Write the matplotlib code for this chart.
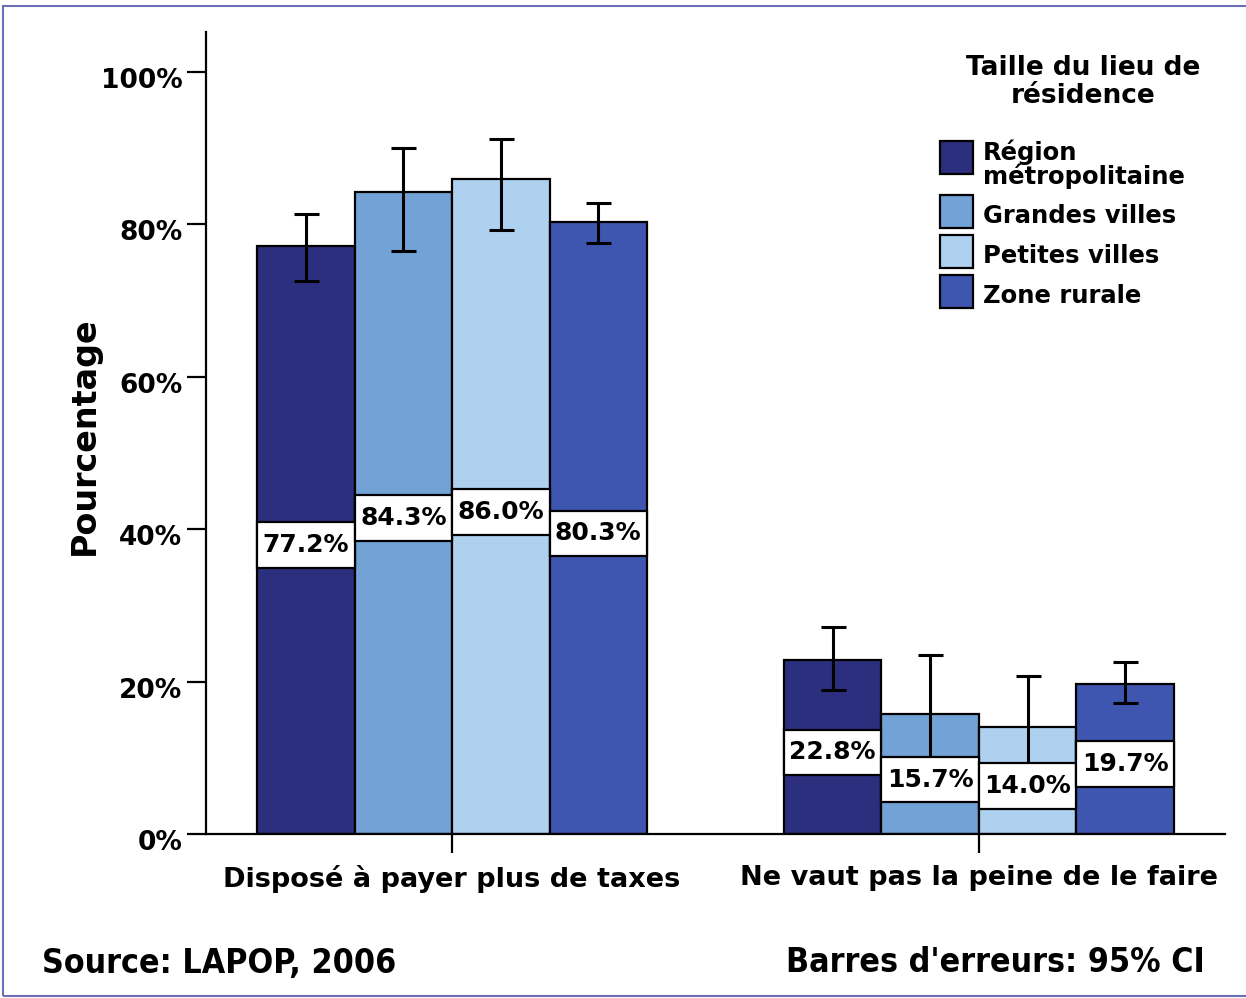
import numpy as np
import matplotlib
matplotlib.use("Agg")
import matplotlib.pyplot as plt
import matplotlib.transforms as mtransforms
from matplotlib.patches import Rectangle

plt.rcParams["font.family"] = "DejaVu Sans"
plt.rcParams["font.weight"] = "bold"

groupes = ["Disposé à payer plus de taxes", "Ne vaut pas la peine de le faire"]
categories = ["Région\nmétropolitaine", "Grandes villes", "Petites villes", "Zone rurale"]
couleurs = ["#2c2e7e", "#72a2d6", "#afd1f0", "#3e56b0"]

val_metro = [77.2, 22.8]
val_grandes = [84.3, 15.7]
val_petites = [86.0, 14.0]
val_rurale = [80.3, 19.7]

ic_bas_metro = [72.6, 18.9]
ic_bas_grandes = [76.5, 10.0]
ic_bas_petites = [79.3, 9.1]
ic_bas_rurale = [77.6, 17.2]

ic_haut_metro = [81.4, 27.2]
ic_haut_grandes = [90.0, 23.5]
ic_haut_petites = [91.2, 20.7]
ic_haut_rurale = [82.8, 22.6]

valeurs = [val_metro, val_grandes, val_petites, val_rurale]
ic_bas = [ic_bas_metro, ic_bas_grandes, ic_bas_petites, ic_bas_rurale]
ic_haut = [ic_haut_metro, ic_haut_grandes, ic_haut_petites, ic_haut_rurale]

W, H = 1246, 998
fig = plt.figure(figsize=(W / 100, H / 100), dpi=100)
ax = fig.add_axes([206 / W, 1 - 834 / H, (1225 - 206) / W, (834 - 32) / H])

x = np.arange(len(groupes))
largeur = 0.185

for i, (vals, bas, haut, cor) in enumerate(zip(valeurs, ic_bas, ic_haut, couleurs)):
    pos = x + (i - 1.5) * largeur
    vals = np.array(vals)
    ax.bar(pos, vals, width=largeur, color=cor, edgecolor="black", linewidth=1.6, zorder=2)
    err = [vals - np.array(bas), np.array(haut) - vals]
    ax.errorbar(pos, vals, yerr=err, fmt="none", ecolor="black", elinewidth=2.2,
                capsize=9, capthick=2.2, zorder=3)
    for p, v in zip(pos, vals):
        yc = v / 2 - 0.7
        ax.add_patch(Rectangle((p - largeur / 2, yc - 3), largeur, 6, facecolor="white",
                               edgecolor="black", linewidth=1.6, zorder=4))
        ax.text(p, yc, f"{v:.1f}%", ha="center", va="center", fontsize=18,
                fontweight="bold", zorder=5)

ax.set_xlim(-0.467, 1.467)
ax.set_ylim(0, 105.25)
ax.set_yticks(np.arange(0, 101, 20))
ax.set_yticklabels([f"{t}%" for t in range(0, 101, 20)])
ax.set_xticks(x)
ax.set_xticklabels(groupes)
ax.tick_params(axis="y", length=14, width=1.6, pad=3, labelsize=19)
ax.tick_params(axis="x", length=14, width=1.6, pad=8, labelsize=19.5)
decalage = mtransforms.ScaledTranslation(0, -6 / 100, fig.dpi_scale_trans)
for lab in ax.get_yticklabels():
    lab.set_transform(lab.get_transform() + decalage)
for s in ["top", "right"]:
    ax.spines[s].set_visible(False)
for s in ["left", "bottom"]:
    ax.spines[s].set_linewidth(1.6)

fig.text(84 / W, 1 - 436 / H, "Pourcentage", rotation=90, ha="center", va="center",
         fontsize=24, fontweight="bold")

# legende faite a la main
fig.text(1083 / W, 1 - 82 / H, "Taille du lieu de\nrésidence", ha="center", va="center",
         fontsize=19, fontweight="bold", linespacing=1.1)
y_leg = 141
for cat, cor in zip(categories, couleurs):
    n = cat.count("\n") + 1
    fig.add_artist(Rectangle((940 / W, 1 - (y_leg + 33) / H), 33 / W, 33 / H,
                             facecolor=cor, edgecolor="black", linewidth=1.6,
                             transform=fig.transFigure))
    dy = 21 if n == 1 else 23
    fig.text(983 / W, 1 - (y_leg + dy) / H, cat, ha="left", va="center",
             fontsize=17.5, fontweight="bold", linespacing=0.95)
    y_leg += 40 if n == 1 else 54

fig.text(42 / W, 1 - 963 / H, "Source: LAPOP, 2006", ha="left", va="center",
         fontsize=24.3, fontweight="bold", fontstretch="condensed")
fig.text(1205 / W, 1 - 963 / H, "Barres d'erreurs: 95% CI", ha="right", va="center",
         fontsize=24.3, fontweight="bold", fontstretch="condensed")

fig.add_artist(Rectangle((3 / W, 2 / H), 1250 / W, (990) / H, fill=False,
                         edgecolor="#6a6fb8", linewidth=1.5, transform=fig.transFigure))

fig.savefig("out.png", dpi=100)
